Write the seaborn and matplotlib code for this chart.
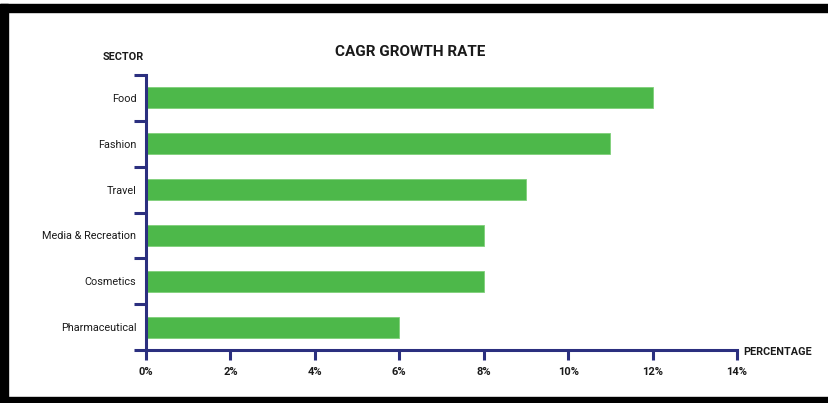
import numpy as np
import pandas as pd
import matplotlib
matplotlib.use("Agg")
import matplotlib.pyplot as plt
from matplotlib.patches import Rectangle
import seaborn as sns

sectors = ["Food", "Fashion", "Travel", "Media & Recreation", "Cosmetics", "Pharmaceutical"]
growth = [12, 11, 9, 8, 8, 6]
xticks = [0, 2, 4, 6, 8, 10, 12, 14]
xtick_labels = ["0%", "2%", "4%", "6%", "8%", "10%", "12%", "14%"]

sns.set_theme(style="white")
plt.rcParams["font.family"] = ["Liberation Sans Narrow", "Roboto", "DejaVu Sans"]

W, H = 829, 403
fig = plt.figure(figsize=(W / 100, H / 100), dpi=100)
fig.patch.set_facecolor("white")
ax = fig.add_axes([146 / W, 1 - 350 / H, (737 - 146) / W, (350 - 75) / H])

df = pd.DataFrame({"sector": sectors, "growth": growth})
navy = "#2b2f7f"
green = "#4db84a"
sns.barplot(data=df, x="growth", y="sector", orient="h", color=green,
            saturation=1, width=0.46, edgecolor="#7fd07a", linewidth=0.6, ax=ax)

ax.set_xlim(0, 14)
ax.set_ylim(5.5, -0.5)
for s in ["top", "right"]:
    ax.spines[s].set_visible(False)
for s in ["left", "bottom"]:
    ax.spines[s].set_color(navy)
    ax.spines[s].set_linewidth(2.2)

ax.set_xticks(xticks)
ax.set_xticklabels(xtick_labels, fontsize=8, fontweight="bold", color="#1a1a1a")
ax.tick_params(axis="x", direction="out", length=7.5, width=2.2, color=navy, pad=5, bottom=True)

ax.set_yticks(np.arange(-0.5, 6, 1))
ax.set_yticklabels([])
ax.set_yticks(range(len(sectors)), minor=True)
ax.set_yticklabels(sectors, minor=True, fontsize=7.8, color="#1a1a1a")
ax.tick_params(axis="y", which="major", direction="out", length=8.5, width=2.2, color=navy, left=True)
ax.tick_params(axis="y", which="minor", length=0, pad=7, left=True)
ax.set_xlabel("")
ax.set_ylabel("")

fig.text(410 / W, 1 - 52 / H, "CAGR GROWTH RATE", ha="center", va="center",
         fontsize=11, fontweight="bold", color="#1a1a1a")
fig.text(123 / W, 1 - 57 / H, "SECTOR", ha="center", va="center",
         fontsize=7.8, fontweight="bold", color="#1a1a1a")
fig.text(743 / W, 1 - 352 / H, "PERCENTAGE", ha="left", va="center",
         fontsize=7.8, fontweight="bold", color="#1a1a1a")

# black frame
fig.patches.append(Rectangle((0, 1 - 12 / H), 1, 8 / H, transform=fig.transFigure,
                             color="black", zorder=10))
fig.patches.append(Rectangle((0, 0), 8 / W, 1 - 4 / H, transform=fig.transFigure,
                             color="black", zorder=10))
fig.patches.append(Rectangle((0, 0), 1, 6 / H, transform=fig.transFigure,
                             color="black", zorder=10))

fig.savefig("out.png", dpi=100)
